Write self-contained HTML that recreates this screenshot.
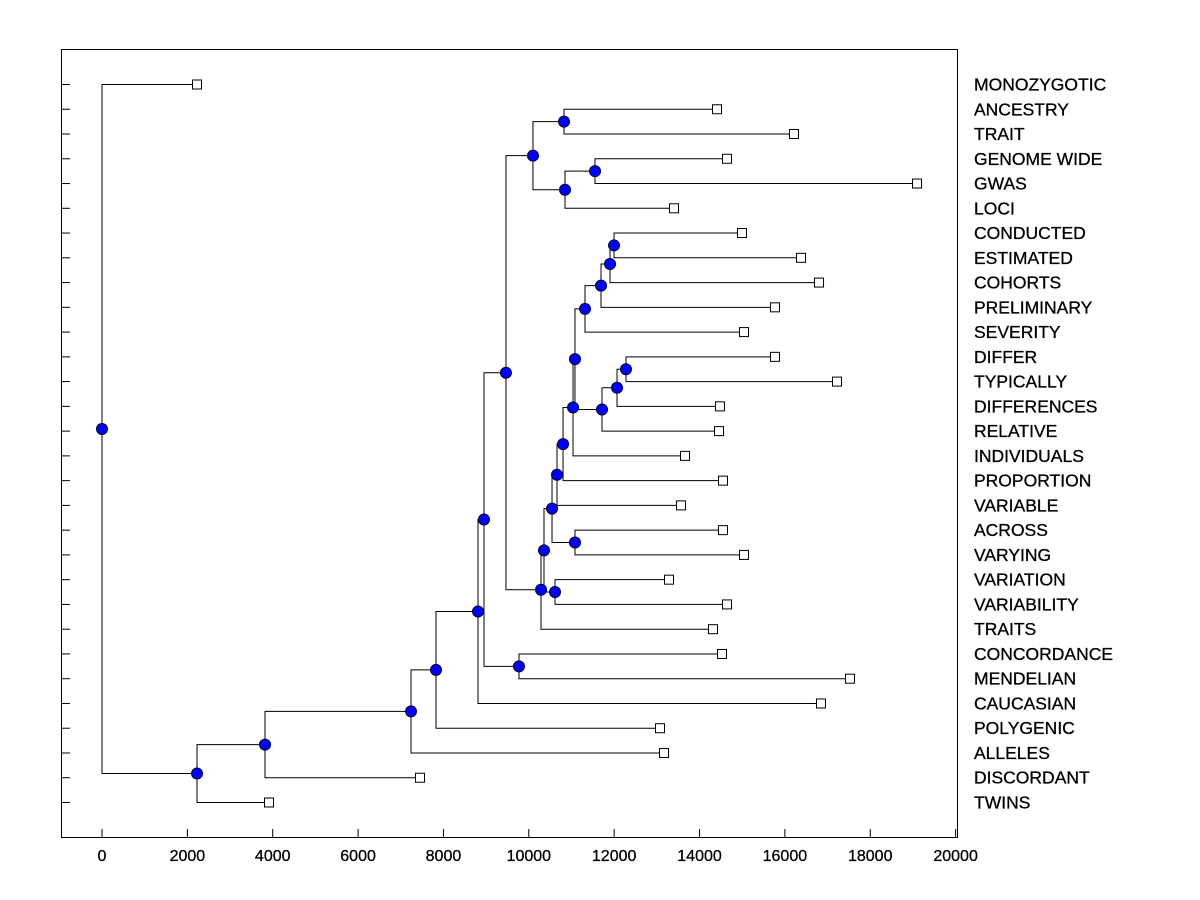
<!DOCTYPE html>
<html><head><meta charset="utf-8"><style>
body{margin:0;background:#fff}
svg{display:block;font-family:"Liberation Sans",Arial,sans-serif}
</style></head><body>
<svg id="chart" width="1200" height="900">
<rect x="61.5" y="49.5" width="896" height="788" fill="none" stroke="#000"/>
<g id="axes"></g>
<g id="links"></g>
<g id="marks"></g>
</svg>
<script>
const xTicks = [0,2000,4000,6000,8000,10000,12000,14000,16000,18000,20000];
const leafNames = ["MONOZYGOTIC","ANCESTRY","TRAIT","GENOME WIDE","GWAS","LOCI","CONDUCTED","ESTIMATED","COHORTS","PRELIMINARY","SEVERITY","DIFFER","TYPICALLY","DIFFERENCES","RELATIVE","INDIVIDUALS","PROPORTION","VARIABLE","ACROSS","VARYING","VARIATION","VARIABILITY","TRAITS","CONCORDANCE","MENDELIAN","CAUCASIAN","POLYGENIC","ALLELES","DISCORDANT","TWINS"];
const leafHeights = [2226,14410,16213,14644,19096,13402,14995,16378,16800,15768,15042,15768,17221,14480,14457,13660,14550,13566,14550,15042,13285,14644,14316,14527,17526,16846,13074,13168,7451,3913];
// merges: [childA, childB, height]; leaves are indices, internal nodes are "n#" (index into merges)
const merges = [
 [1,2,10825],        // n0
 [3,4,11551],        // n1
 ["n1",5,10848],     // n2
 ["n0","n2",10098],  // n3
 [6,7,11997],        // n4
 ["n4",8,11903],     // n5
 ["n5",9,11692],     // n6
 ["n6",10,11317],    // n7
 [11,12,12277],      // n8
 ["n8",13,12067],    // n9
 ["n9",14,11715],    // n10
 ["n7","n10",11082], // n11
 ["n11",15,11036],   // n12
 ["n12",16,10802],   // n13
 ["n13",17,10661],   // n14
 [18,19,11082],      // n15
 ["n14","n15",10544],// n16
 [20,21,10614],      // n17
 ["n16","n17",10356],// n18
 ["n18",22,10286],   // n19
 ["n3","n19",9465],  // n20
 [23,24,9770],       // n21
 ["n20","n21",8950], // n22
 ["n22",25,8810],    // n23
 ["n23",26,7826],    // n24
 ["n24",27,7240],    // n25
 ["n25",28,3819],    // n26
 ["n26",29,2226],    // n27
 [0,"n27",0]         // n28 root
];
const NS="http://www.w3.org/2000/svg";
const X0=102, XS=42.68/1000, Y0=84.5, YS=(802.5-84.5)/29;
function xs(v){return X0+v*XS;}
function ys(i){return Y0+i*YS;}
function mk(tag,attrs,parent){const e=document.createElementNS(NS,tag);for(const k in attrs)e.setAttribute(k,attrs[k]);parent.appendChild(e);return e;}
const axes=document.getElementById('axes'), links=document.getElementById('links'), marks=document.getElementById('marks');
xTicks.forEach(t=>{
 const l=mk('line',{x1:xs(t),x2:xs(t),y1:838,y2:829,stroke:'#000'},axes);
 
 
 const tx=mk('text',{x:xs(t),y:861,'text-anchor':'middle','font-size':'16','stroke':'#000','stroke-width':'0.3'},axes);
 tx.textContent=t;
 
 
});
leafNames.forEach((n,i)=>{
 const l=mk('line',{x1:61,x2:70,y1:ys(i),y2:ys(i),stroke:'#000'},axes);
 
 
 const tx=mk('text',{x:974,y:ys(i)+6,'font-size':'17.5','stroke':'#000','stroke-width':'0.3'},axes);
 tx.textContent=n;
 
 
});
function pos(c){
 if(typeof c==='number') return {x:xs(leafHeights[c]),y:ys(c)};
 const m=merges[+c.slice(1)];const a=pos(m[0]),b=pos(m[1]);
 return {x:xs(m[2]),y:(a.y+b.y)/2};
}
const dots=[];
merges.forEach(m=>{
 const a=pos(m[0]),b=pos(m[1]),x=xs(m[2]);
 const p=mk('path',{d:`M${a.x},${a.y}H${x}V${b.y}H${b.x}`,fill:'none',stroke:'#000','stroke-width':1},links);
 
 
 dots.push([x,(a.y+b.y)/2]);
});
leafNames.forEach((n,i)=>{
 const r=mk('rect',{x:xs(leafHeights[i])-4.5,y:ys(i)-4.5,width:9,height:9,fill:'#fff',stroke:'#000'},marks);
 
 
});
dots.forEach(d=>{
 const c=mk('circle',{cx:d[0],cy:d[1],r:5.5,fill:'#0000ff',stroke:'#000033','stroke-width':1},marks);
 
 
});
</script>
</body></html>
